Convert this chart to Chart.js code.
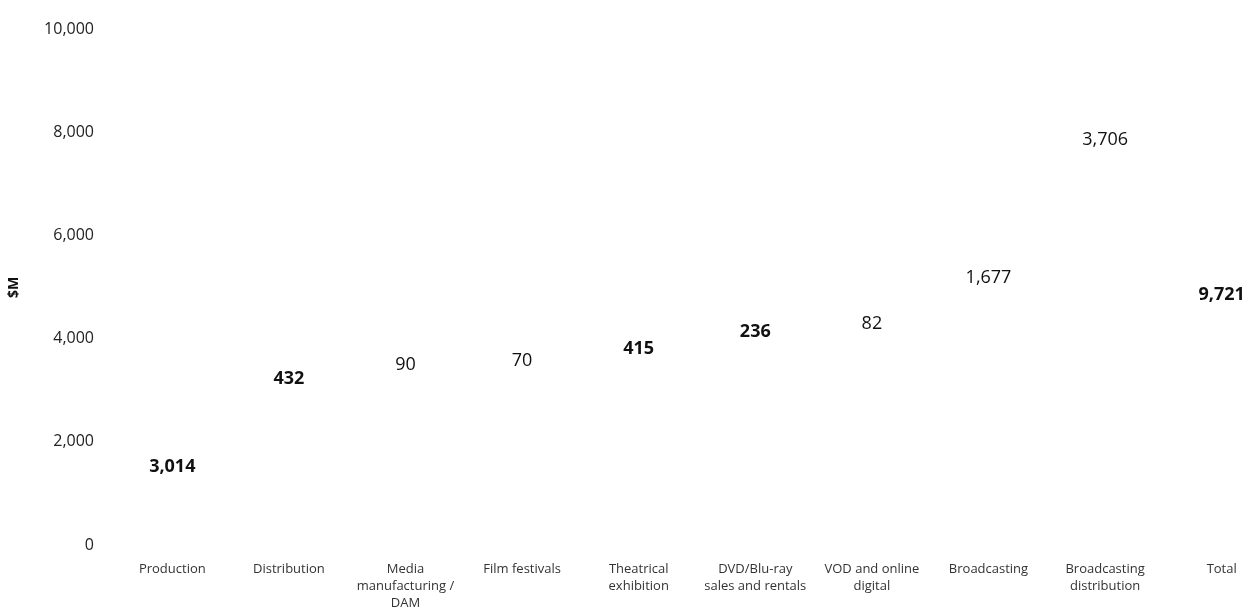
<!DOCTYPE html>
<html>
<head>
<meta charset="utf-8">
<script src="https://cdn.jsdelivr.net/npm/chart.js@4.4.1/dist/chart.umd.min.js"></script>
<style>
    html, body { margin: 0; padding: 0; background: #fff; overflow: hidden; }
    #wrap { width: 1290px; height: 613px; position: relative; }
</style>
</head>
<body>
<div id="wrap"><canvas id="chart"></canvas></div>
<script>
// Waterfall data ($M)
const categories = [
    'Production',
    'Distribution',
    ['Media', 'manufacturing /', 'DAM'],
    'Film festivals',
    ['Theatrical', 'exhibition'],
    ['DVD/Blu-ray', 'sales and rentals'],
    ['VOD and online', 'digital'],
    'Broadcasting',
    ['Broadcasting', 'distribution'],
    'Total'
];
const values = [3014, 432, 90, 70, 415, 236, 82, 1677, 3706, 9721];
const isTotal = [false, false, false, false, false, false, false, false, false, true];
const yTicks = [0, 2000, 4000, 6000, 8000, 10000];

// label weights as they look in the picture
const labelWeights = ['bold', 'bold', '500', '500', 'bold', 'bold', '500', '500', '500', 'bold'];

// floating bars: running sum for steps, from zero for the total
const ranges = [];
let running = 0;
values.forEach((v, i) => {
    if (isTotal[i]) {
        ranges.push([0, v]);
    } else {
        ranges.push([running, running + v]);
        running += v;
    }
});

const FONT = "'Open Sans', 'DejaVu Sans', sans-serif";

// draw the value in the middle of each (invisible) bar
const midLabels = {
    id: 'midLabels',
    afterDatasetsDraw(chart) {
        const ctx = chart.ctx;
        const meta = chart.getDatasetMeta(0);
        ctx.save();
        ctx.fillStyle = '#111';
        ctx.textAlign = 'center';
        ctx.textBaseline = 'middle';
        meta.data.forEach((bar, i) => {
            ctx.font = labelWeights[i] + ' 18px ' + FONT;
            const y = (bar.y + bar.base) / 2;
            ctx.fillText(values[i].toLocaleString('en-US'), bar.x, y);
        });
        ctx.restore();
    }
};

new Chart(document.getElementById('chart').getContext('2d'), {
    type: 'bar',
    data: {
        labels: categories,
        datasets: [{
            label: '$M',
            data: ranges,
            backgroundColor: 'rgba(255,255,255,0)',
            borderWidth: 0,
            categoryPercentage: 0.8,
            barPercentage: 0.9
        }]
    },
    options: {
        responsive: true,
        maintainAspectRatio: false,
        animation: false,
        layout: { padding: { top: 27, right: 10, bottom: 0, left: 6 } },
        plugins: {
            legend: { display: false },
            tooltip: { enabled: false }
        },
        scales: {
            x: {
                grid: { display: false, drawTicks: false },
                border: { display: false },
                ticks: {
                    color: '#333',
                    font: { family: FONT, size: 13, lineHeight: 1.3 },
                    padding: 16,
                    maxRotation: 0,
                    autoSkip: false
                },
                afterFit(axis) { axis.height = 68; }
            },
            y: {
                min: 0,
                max: 10000,
                afterBuildTicks(axis) { axis.ticks = yTicks.map(v => ({ value: v })); },
                grid: { display: false, drawTicks: false },
                border: { display: false },
                ticks: {
                    color: '#222',
                    font: { family: FONT, size: 16 },
                    padding: 20,
                    callback: v => v.toLocaleString('en-US')
                },
                title: {
                    display: true,
                    text: '$M',
                    color: '#111',
                    font: { family: FONT, size: 14, weight: 'bold' },
                    padding: { top: 0, bottom: 0 }
                },
                afterFit(axis) { axis.width = 108; }
            }
        }
    },
    plugins: [midLabels]
});
</script>
</body>
</html>
